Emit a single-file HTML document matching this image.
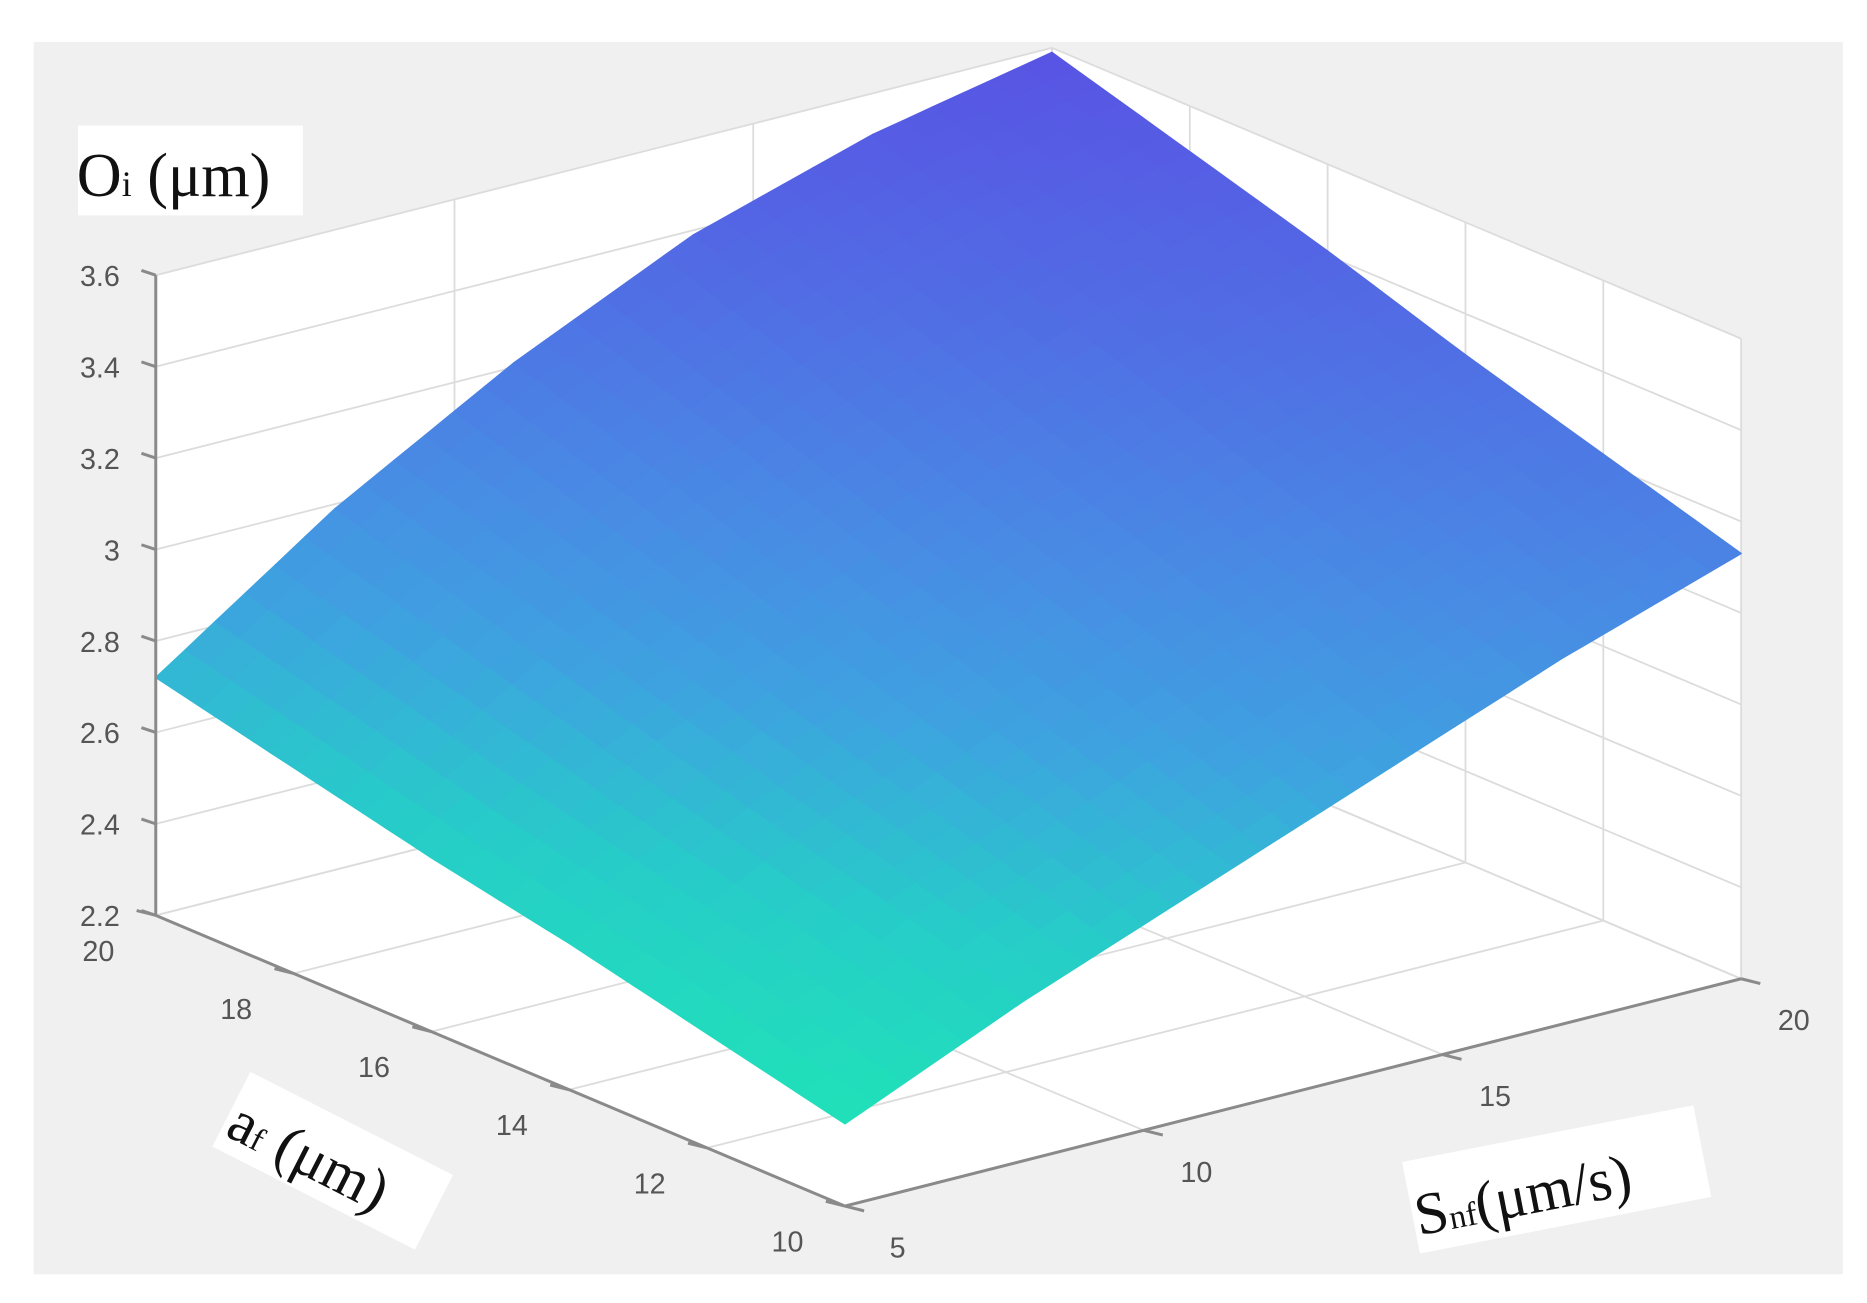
<!DOCTYPE html>
<html><head><meta charset="utf-8"><style>
html,body{margin:0;padding:0;background:#fff;width:1867px;height:1303px;overflow:hidden}
svg{display:block}
text{font-family:"Liberation Sans",sans-serif}
</style></head><body>
<svg id="chart" width="1867" height="1303" viewBox="0 0 1560 1089" xmlns="http://www.w3.org/2000/svg">
<rect x="28" y="35" width="1512" height="1030" fill="#f0f0f0"/>
<g id="walls"></g>
<g id="grid"></g>
<g id="surface"></g>
<g id="axes"></g>
<g>
<rect x="65" y="105" width="188" height="75" fill="#fff"/>
<text x="64" y="164" font-size="52" fill="#111" style="font-family:'Liberation Serif',serif">O<tspan font-size="30">i</tspan> (μm)</text>
</g>
<g transform="translate(272,975) rotate(27)">
<rect x="-92" y="-42" width="190" height="70" fill="#fff"/>
<text x="-88" y="15" font-size="50" fill="#111" style="font-family:'Liberation Serif',serif">a<tspan font-size="28">f</tspan> (μm)</text>
</g>
<g transform="translate(1300,992) rotate(-11)">
<rect x="-122" y="-45" width="248" height="78" fill="#fff"/>
<text x="-120" y="18" font-size="50" fill="#111" style="font-family:'Liberation Serif',serif">S<tspan font-size="28">nf</tspan>(μm/s)</text>
</g>
</svg>
<script>
const aVals=[10,12,14,16,18,20];
const sVals=[5,8,11,14,17,20];
const zRows=[
[2.38,2.55,2.70,2.85,3.00,3.13],
[2.45,2.64,2.80,2.96,3.10,3.22],
[2.52,2.72,2.90,3.07,3.20,3.31],
[2.58,2.81,3.00,3.17,3.31,3.41],
[2.65,2.90,3.11,3.28,3.41,3.50],
[2.72,2.99,3.21,3.39,3.51,3.59]];
const zTicks=[2.2,2.4,2.6,2.8,3,3.2,3.4,3.6];
const zTickLabels=["2.2","2.4","2.6","2.8","3","3.2","3.4","3.6"];
const aTicks=[10,12,14,16,18,20];
const sTicks=[5,10,15,20];
const NS="http://www.w3.org/2000/svg";
const F=[706,1008],L=[130,765],R=[1455,818],ZH=535;
const aMin=10,aMax=20,sMin=5,sMax=20,zMin=2.2,zMax=3.6;
function P(a,s,z){const u=(a-aMin)/(aMax-aMin),v=(s-sMin)/(sMax-sMin),w=(z-zMin)/(zMax-zMin);
return [F[0]+u*(L[0]-F[0])+v*(R[0]-F[0]),F[1]+u*(L[1]-F[1])+v*(R[1]-F[1])-w*ZH];}
function mk(tag,attrs,parent){const e=document.createElementNS(NS,tag);for(const k in attrs)e.setAttribute(k,attrs[k]);document.getElementById(parent).appendChild(e);return e;}
function pts(arr){return arr.map(p=>p[0].toFixed(1)+","+p[1].toFixed(1)).join(" ");}
let w1=mk('polygon',{points:pts([P(20,5,zMin),P(20,20,zMin),P(20,20,zMax),P(20,5,zMax)]),fill:'#fff'},'walls');


let w2=mk('polygon',{points:pts([P(20,20,zMin),P(10,20,zMin),P(10,20,zMax),P(20,20,zMax)]),fill:'#fff'},'walls');


let w3=mk('polygon',{points:pts([P(10,5,zMin),P(20,5,zMin),P(20,20,zMin),P(10,20,zMin)]),fill:'#fff'},'walls');


function gl(p,q,name){const l=mk('line',{x1:p[0],y1:p[1],x2:q[0],y2:q[1],stroke:'#dcdcdc','stroke-width':1.5},'grid');

}
zTicks.forEach(z=>{gl(P(20,5,z),P(20,20,z),'gridline-z');gl(P(20,20,z),P(10,20,z),'gridline-z');});
sTicks.forEach(s=>{gl(P(20,s,zMin),P(20,s,zMax),'gridline-s');gl(P(10,s,zMin),P(20,s,zMin),'gridline-s');});
aTicks.forEach(a=>{gl(P(a,20,zMin),P(a,20,zMax),'gridline-a');gl(P(a,5,zMin),P(a,20,zMin),'gridline-a');});
const stops=[[2.38,[32,226,184]],[2.62,[38,205,200]],[2.85,[62,162,224]],[3.05,[72,140,228]],[3.3,[80,112,228]],[3.59,[88,84,228]]];
function col(z){if(z<=stops[0][0])return 'rgb('+stops[0][1].join(',')+')';
for(let i=1;i<stops.length;i++){if(z<=stops[i][0]){const k=(z-stops[i-1][0])/(stops[i][0]-stops[i-1][0]);
return 'rgb('+stops[i-1][1].map((v,j)=>Math.round(v+(stops[i][1][j]-v)*k)).join(',')+')';}}
return 'rgb('+stops[stops.length-1][1].join(',')+')';}
const SUB=6;
for(let i=0;i<aVals.length-1;i++)for(let j=0;j<sVals.length-1;j++){
const z00=zRows[i][j],z10=zRows[i+1][j],z01=zRows[i][j+1],z11=zRows[i+1][j+1];
const g=mk('g',{},'surface');


const Z=(u,v)=>z00*(1-u)*(1-v)+z10*u*(1-v)+z01*(1-u)*v+z11*u*v;
const A=u=>aVals[i]+(aVals[i+1]-aVals[i])*u, S=v=>sVals[j]+(sVals[j+1]-sVals[j])*v;
for(let p=0;p<SUB;p++)for(let q=0;q<SUB;q++){
const u0=p/SUB,u1=(p+1)/SUB,v0=q/SUB,v1=(q+1)/SUB;
const c=col(Z((u0+u1)/2,(v0+v1)/2));
const e=document.createElementNS(NS,'polygon');
e.setAttribute('points',pts([P(A(u0),S(v0),Z(u0,v0)),P(A(u1),S(v0),Z(u1,v0)),P(A(u1),S(v1),Z(u1,v1)),P(A(u0),S(v1),Z(u0,v1))]));
e.setAttribute('fill',c);e.setAttribute('stroke',c);e.setAttribute('stroke-width','1.2');e.setAttribute('stroke-linejoin','round');
g.appendChild(e);}}
function ax(p,q,name){const l=mk('line',{x1:p[0],y1:p[1],x2:q[0],y2:q[1],stroke:'#8a8a8a','stroke-width':2.5},'axes');

}
ax(P(20,5,zMin),P(20,5,zMax),'z-axis-line');
ax(P(20,5,zMin),P(10,5,zMin),'a-axis-line');
ax(P(10,5,zMin),P(10,20,zMin),'s-axis-line');
function tx(x,y,s,anchor,name){const t=mk('text',{x:x,y:y,'font-size':24,fill:'#555','text-anchor':anchor},'axes');t.textContent=s;

}
zTicks.forEach((z,i)=>{const p=P(20,5,z);ax([p[0]-12,p[1]-4],p,'z-tick');tx(p[0]-30,p[1]+9,zTickLabels[i],'end','z-tick-label');});
aTicks.forEach(a=>{const p=P(a,5,zMin);ax([p[0]-16,p[1]-4],p,'a-tick');tx(p[0]-48,p[1]+38,String(a),'middle','a-tick-label');});
sTicks.forEach(s=>{const p=P(10,s,zMin);ax([p[0]+16,p[1]+4],p,'s-tick');tx(p[0]+44,p[1]+43,String(s),'middle','s-tick-label');});
</script>
</body></html>
